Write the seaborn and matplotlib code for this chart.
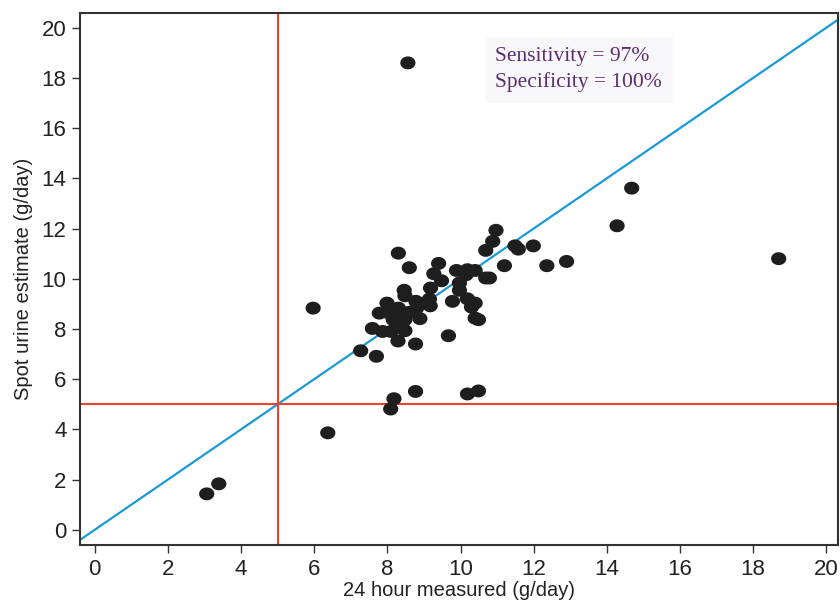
import matplotlib
matplotlib.use("Agg")
import matplotlib.pyplot as plt
import seaborn as sns
import pandas as pd
import numpy as np
from matplotlib.path import Path

# 24 hour measured vs spot urine estimate (g/day)
measured = [8.56, 3.06, 3.39, 6.37, 5.97, 8.09, 8.18, 8.77, 10.19, 10.49,
            7.27, 7.70, 7.59, 7.87, 8.10, 8.29, 8.41, 8.48, 8.77, 9.67,
            7.78, 7.99, 8.07, 8.24, 8.30, 8.16, 8.48, 8.59, 8.80, 8.89,
            8.78, 8.46, 8.48, 8.30, 8.60, 9.18, 9.17, 9.15, 9.27, 9.48,
            9.40, 9.78, 9.89, 9.97, 9.97, 10.19, 10.15, 10.40, 10.19, 10.40,
            10.30, 10.40, 10.49, 10.69, 10.79, 10.69, 10.88, 10.97, 11.20, 11.49,
            11.58, 11.99, 12.36, 12.90, 14.28, 14.68, 18.70]
spot = [18.60, 1.43, 1.83, 3.86, 8.83, 4.81, 5.22, 5.51, 5.41, 5.53,
        7.13, 6.91, 8.02, 7.90, 7.90, 7.52, 8.04, 7.93, 7.40, 7.73,
        8.63, 9.03, 8.61, 8.49, 8.83, 8.37, 8.37, 8.66, 8.83, 8.41,
        9.10, 9.54, 9.32, 11.02, 10.44, 9.63, 8.92, 9.19, 10.20, 9.92,
        10.61, 9.10, 10.33, 9.83, 9.54, 10.36, 10.16, 10.33, 9.20, 9.03,
        8.87, 8.43, 8.37, 10.03, 10.03, 11.13, 11.49, 11.93, 10.52, 11.31,
        11.18, 11.31, 10.52, 10.69, 12.11, 13.61, 10.80]
cutoff = 5
x_ticks = list(range(0, 21, 2))
y_ticks = list(range(0, 21, 2))

df = pd.DataFrame({"measured": measured, "spot": spot})

# slightly flattened dot, like the original
t = np.linspace(0, 2 * np.pi, 40)
dot = Path(np.column_stack([np.cos(t), 0.85 * np.sin(t)]), closed=True)

sns.set_style("ticks")
plt.rcParams["font.family"] = ["Liberation Sans", "DejaVu Sans"]

fig = plt.figure(figsize=(8.4, 6.04), dpi=100)
ax = fig.add_axes([0.095, 0.098, 0.903, 0.881])

ax.set_xlim(-0.41, 20.33)
ax.set_ylim(-0.6, 20.6)

ax.plot([-0.41, 20.6], [-0.41, 20.6], color="#1a9ad6", lw=1.6, zorder=1)
ax.axvline(cutoff, color="#e8432f", lw=1.5, zorder=1)
ax.axhline(cutoff, color="#e8432f", lw=1.5, zorder=1)

sns.scatterplot(data=df, x="measured", y="spot", ax=ax, color="#1e1e1e",
                marker=dot, s=120, edgecolor="none", zorder=3, legend=False)

ax.set_xticks(x_ticks)
ax.set_yticks(y_ticks)
ax.tick_params(axis="both", labelsize=16, length=6, width=1, color="#333333",
               labelcolor="#222222")
ax.tick_params(axis="x", pad=4)
ax.set_xlabel("24 hour measured (g/day)", fontsize=14.5, color="#222222", labelpad=1)
ax.set_ylabel("Spot urine estimate (g/day)", fontsize=14.5, color="#222222", labelpad=6)
for sp in ax.spines.values():
    sp.set_visible(True)
    sp.set_color("#333333")
    sp.set_linewidth(1.5)

ax.text(0.548, 0.935, "Sensitivity = 97%\nSpecificity = 100%",
        transform=ax.transAxes, family="Liberation Serif", fontsize=15.5,
        color="#5b2c6f", va="top", ha="left", linespacing=1.4,
        bbox=dict(boxstyle="square,pad=0.5", facecolor="#f8f8fa", edgecolor="none"))

fig.savefig("out.png", dpi=100)
